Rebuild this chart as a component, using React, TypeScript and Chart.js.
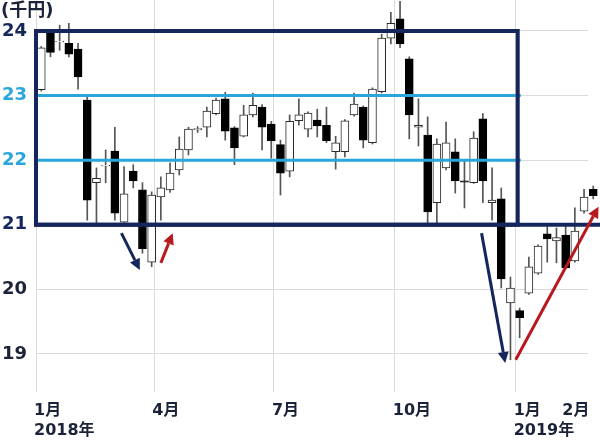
import React, { useEffect, useRef } from "react";
import { Chart, registerables } from "chart.js";
Chart.register(...registerables);

// Weekly candles (thousand yen); first candle is the week ending 2018-01-05, one per week
const firstWeekEnd = "2018-01-05";
const opens = [23.09, 23.97, 23.83, 23.81, 23.72, 22.93, 21.65, 21.91, 22.14, 21.04, 21.83, 21.54, 20.42, 21.43, 21.54, 21.85, 22.16, 22.47, 22.51, 22.72, 22.95, 22.50, 22.37, 22.70, 22.82, 22.56, 22.24, 21.83, 22.61, 22.48, 22.62, 22.54, 22.13, 22.13, 22.70, 22.82, 22.27, 23.06, 23.89, 24.19, 23.57, 22.51, 22.39, 21.34, 21.88, 22.13, 21.68, 21.65, 22.64, 21.34, 21.40, 19.79, 19.67, 19.94, 20.25, 20.86, 20.75, 20.84, 20.44, 21.21, 21.55];
const highs = [23.76, 24.00, 24.09, 24.12, 23.81, 22.98, 21.88, 22.16, 22.51, 21.90, 21.93, 21.65, 21.51, 21.74, 21.96, 22.36, 22.51, 22.52, 22.82, 22.96, 23.05, 22.52, 22.85, 23.04, 22.86, 22.60, 22.31, 22.70, 22.95, 22.75, 22.79, 22.82, 22.37, 22.63, 23.04, 22.84, 23.12, 23.95, 24.29, 24.46, 23.60, 22.95, 22.67, 22.33, 22.59, 22.33, 22.00, 22.44, 22.72, 21.88, 21.57, 20.19, 19.71, 20.50, 20.69, 20.97, 20.95, 20.98, 21.26, 21.55, 21.60];
const lows = [23.07, 23.60, 23.70, 23.60, 23.10, 21.07, 21.00, 21.65, 21.07, 21.00, 21.57, 20.56, 20.35, 21.07, 21.50, 21.77, 22.08, 22.43, 22.36, 22.70, 22.31, 21.93, 22.36, 22.67, 22.16, 22.03, 21.46, 21.74, 22.54, 22.36, 22.36, 22.27, 21.86, 22.05, 22.68, 22.19, 22.25, 23.04, 23.80, 23.74, 22.33, 22.22, 21.03, 21.03, 21.85, 21.49, 21.26, 21.64, 21.34, 21.07, 20.02, 18.91, 19.25, 19.92, 20.23, 20.42, 20.41, 20.32, 20.42, 21.18, 21.40];
const closes = [23.74, 23.67, 23.84, 23.64, 23.29, 21.38, 21.72, 21.92, 21.18, 21.48, 21.68, 20.63, 21.46, 21.57, 21.80, 22.17, 22.48, 22.49, 22.76, 22.93, 22.45, 22.19, 22.70, 22.85, 22.51, 22.30, 21.80, 22.60, 22.70, 22.73, 22.53, 22.30, 22.27, 22.61, 22.87, 22.31, 23.10, 23.89, 24.12, 23.80, 22.70, 22.54, 21.20, 22.25, 22.27, 21.68, 21.66, 22.34, 21.68, 21.38, 20.16, 20.02, 19.56, 20.35, 20.67, 20.78, 20.80, 20.33, 20.90, 21.43, 21.45];

const yTicks = [19, 20, 21, 22, 23, 24];
const xGridDates = ["2018-01-01", "2018-04-01", "2018-07-01", "2018-10-01", "2019-01-01"];
const xLabelDates = ["2018-01-01", "2018-04-01", "2018-07-01", "2018-10-01", "2019-01-01", "2019-02-07"];
const xLabelLines = [["1月", "2018年"], ["4月"], ["7月"], ["10月"], ["1月", "2019年"], ["2月"]];
const unitLabel = "(千円)";

const boxDates = ["2018-01-01", "2019-01-01"];
const boxLevels = [24, 21];
const blueLevels = [23, 22];
const arrowFromDates = ["2018-03-07", "2018-04-06", "2018-12-06", "2019-01-01"];
const arrowFromValues = [20.87, 20.41, 20.87, 18.91];
const arrowToDates = ["2018-03-21", "2018-04-15", "2018-12-24", "2019-03-05"];
const arrowToValues = [20.3, 20.87, 18.86, 21.28];
const arrowColors = ["navy", "red", "navy", "red"];

const NAVY = "#14265c";
const BLUE = "#2aa6dc";
const RED = "#b8191d";
const TEXT = "#1b2338";
const FONT = '"DejaVu Sans", "Noto Sans CJK JP", sans-serif';

const DAY0 = Date.UTC(2018, 0, 1);
const dayOf = (s: string) => (new Date(s + "T00:00:00Z").getTime() - DAY0) / 86400000;

const tickColor: Record<number, string> = { 24: NAVY, 23: BLUE, 22: BLUE, 21: NAVY, 20: TEXT, 19: TEXT };

function drawArrow(ctx: CanvasRenderingContext2D, x1: number, y1: number, x2: number, y2: number, color: string) {
  const ang = Math.atan2(y2 - y1, x2 - x1);
  const head = 11;
  const half = 5.5;
  const bx = x2 - head * Math.cos(ang);
  const by = y2 - head * Math.sin(ang);
  ctx.strokeStyle = color;
  ctx.fillStyle = color;
  ctx.lineWidth = 3;
  ctx.lineCap = "butt";
  ctx.beginPath();
  ctx.moveTo(x1, y1);
  ctx.lineTo(bx, by);
  ctx.stroke();
  ctx.beginPath();
  ctx.moveTo(x2, y2);
  ctx.lineTo(bx + half * Math.sin(ang), by - half * Math.cos(ang));
  ctx.lineTo(bx - half * Math.sin(ang), by + half * Math.cos(ang));
  ctx.closePath();
  ctx.fill();
}

const overlayPlugin = {
  id: "overlay",
  afterDatasetsDraw(chart: any) {
    const { ctx, scales } = chart;
    const x = scales.x;
    const y = scales.y;
    const x0 = x.getPixelForValue(dayOf(boxDates[0]));
    const x1 = x.getPixelForValue(dayOf(boxDates[1])) + 2;
    const yTop = y.getPixelForValue(boxLevels[0]);
    const yBot = y.getPixelForValue(boxLevels[1]);
    ctx.save();
    ctx.strokeStyle = BLUE;
    ctx.lineWidth = 3;
    for (const lv of blueLevels) {
      const py = y.getPixelForValue(lv);
      ctx.beginPath();
      ctx.moveTo(x0, py);
      ctx.lineTo(x1 + 3, py);
      ctx.stroke();
    }
    ctx.strokeStyle = NAVY;
    ctx.lineWidth = 4;
    ctx.lineJoin = "miter";
    ctx.strokeRect(x0, yTop, x1 - x0, yBot - yTop);
    ctx.beginPath();
    ctx.moveTo(x0 - 2, yBot);
    ctx.lineTo(chart.width, yBot);
    ctx.stroke();
    for (let i = 0; i < arrowFromDates.length; i++) {
      drawArrow(
        ctx,
        x.getPixelForValue(dayOf(arrowFromDates[i])),
        y.getPixelForValue(arrowFromValues[i]),
        x.getPixelForValue(dayOf(arrowToDates[i])),
        y.getPixelForValue(arrowToValues[i]),
        arrowColors[i] === "red" ? RED : NAVY
      );
    }
    ctx.restore();
  },
  afterDraw(chart: any) {
    const { ctx, scales, chartArea } = chart;
    const x = scales.x;
    ctx.save();
    ctx.fillStyle = TEXT;
    ctx.font = `bold 16px ${FONT}`;
    ctx.textAlign = "left";
    ctx.textBaseline = "middle";
    xLabelDates.forEach((d, i) => {
      const px = x.getPixelForValue(dayOf(d)) - 2;
      xLabelLines[i].forEach((line, j) => {
        ctx.fillText(line, px, chartArea.bottom + 19 + j * 20);
      });
    });
    ctx.font = `bold 18px ${FONT}`;
    ctx.textBaseline = "middle";
    ctx.fillText(unitLabel, 1, 11);
    ctx.restore();
  },
};

export default function App() {
  const ref = useRef<HTMLCanvasElement | null>(null);
  useEffect(() => {
    if (!ref.current) return;
    const start = dayOf(firstWeekEnd);
    const xs = opens.map((_, i) => start + 7 * i);
    const up = opens.map((o, i) => closes[i] >= o);
    const chart = new Chart(ref.current, {
      type: "bar",
      data: {
        datasets: [
          {
            label: "body",
            data: xs.map((xv, i) => ({ x: xv, y: [opens[i], closes[i]] })) as any,
            backgroundColor: up.map((u) => (u ? "#ffffff" : "#000000")),
            borderColor: up.map((u) => (u ? "#2a2a2a" : "#000000")),
            borderWidth: 1,
            borderSkipped: false,
            barThickness: 8,
            grouped: false,
            order: 0,
            clip: false as any,
          },
          {
            label: "wick",
            data: xs.map((xv, i) => ({ x: xv, y: [lows[i], highs[i]] })) as any,
            backgroundColor: "#555555",
            borderWidth: 0,
            barThickness: 1,
            grouped: false,
            order: 1,
            clip: false as any,
          },
        ],
      },
      options: {
        responsive: false,
        animation: false,
        devicePixelRatio: 1,
        layout: { padding: { top: 0, right: 12, bottom: 0, left: 0 } },
        plugins: { legend: { display: false }, tooltip: { enabled: false } },
        scales: {
          x: {
            type: "linear",
            min: 0,
            max: 420,
            offset: false,
            afterBuildTicks: (s: any) => {
              s.ticks = xGridDates.map((d) => ({ value: dayOf(d) }));
            },
            afterFit: (s: any) => {
              s.height = 49;
              s.paddingLeft = 0;
              s.paddingRight = 0;
            },
            ticks: { display: false },
            grid: { color: "#dadada", lineWidth: 1, drawTicks: false, offset: false },
            border: { display: false },
          },
          y: {
            type: "linear",
            min: 18.41,
            max: 24.48,
            afterBuildTicks: (s: any) => {
              s.ticks = yTicks.map((v) => ({ value: v }));
            },
            afterFit: (s: any) => {
              s.width = 36;
              s.paddingTop = 0;
              s.paddingBottom = 0;
            },
            ticks: {
              color: (c: any) => tickColor[c.tick.value] || TEXT,
              font: { family: FONT, size: 18, weight: "bold" },
              padding: 9,
            },
            grid: { color: "#dadada", lineWidth: 1, drawTicks: false },
            border: { display: false },
          },
        },
      },
      plugins: [overlayPlugin],
    } as any);
    return () => chart.destroy();
  }, []);
  return (
    <div style={{ position: "fixed", left: 0, top: 0, width: 600, height: 441, background: "#fff" }}>
      <canvas ref={ref} width={600} height={441} />
    </div>
  );
}
